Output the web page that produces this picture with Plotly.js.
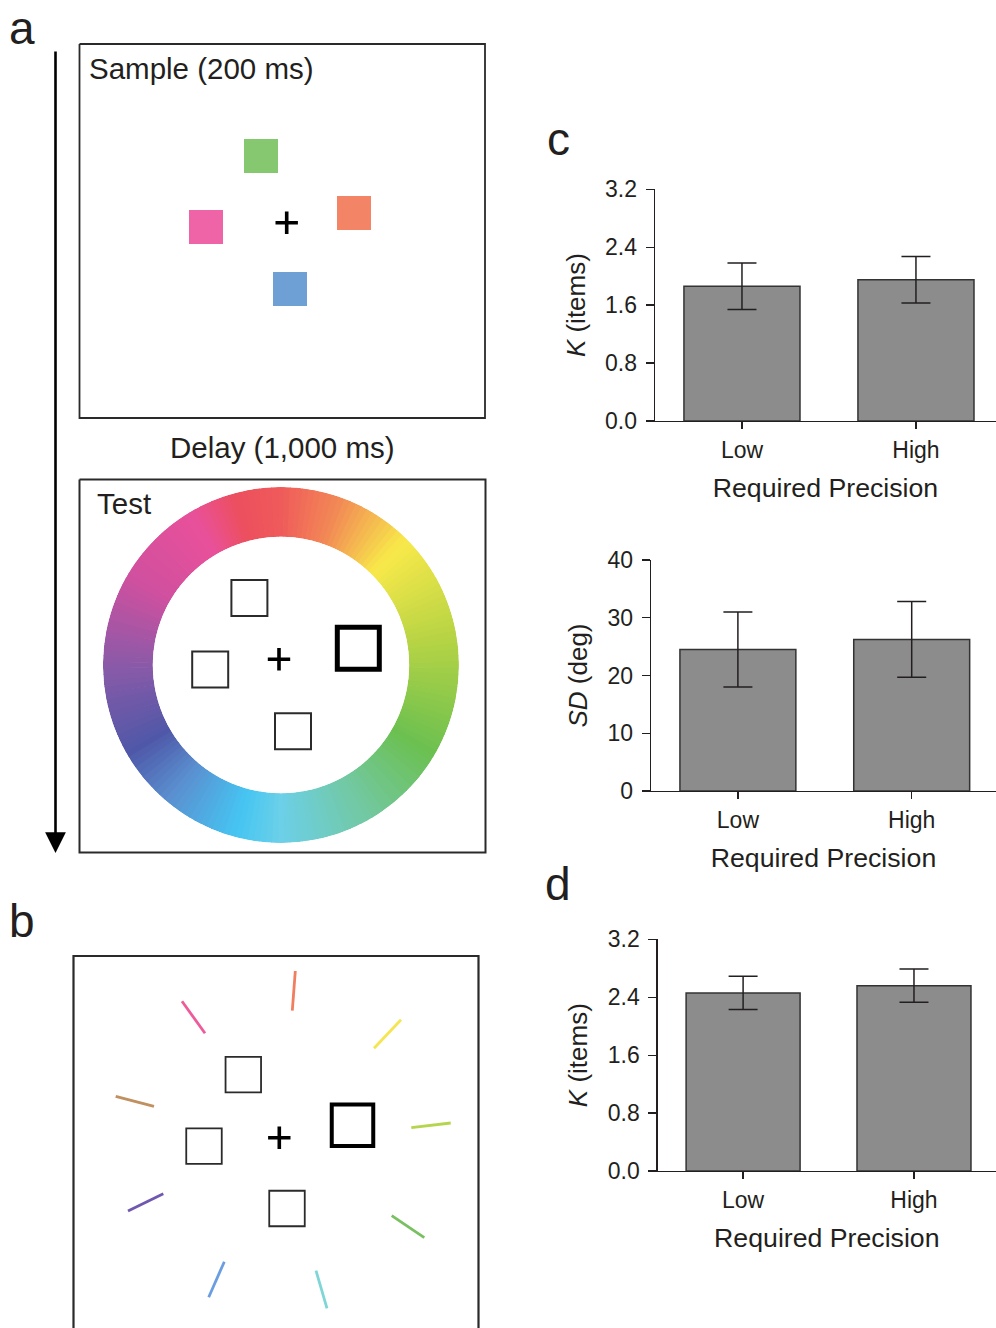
<!DOCTYPE html>
<html>
<head>
<meta charset="utf-8">
<script src="https://cdn.plot.ly/plotly-3.0.1.min.js"></script>
<style>html,body{margin:0;padding:0;background:#fff;}#chart{width:996px;height:1328px;}</style>
</head>
<body>
<div id="chart"></div>
<script>
// ---------- bar chart data ----------
const categories = ['Low', 'High'];
const kItemsC = [1.86, 1.95];
const kItemsCErr = [0.32, 0.32];
const sdDeg = [24.5, 26.25];
const sdDegErr = [6.5, 6.55];
const kItemsD = [2.46, 2.56];
const kItemsDErr = [0.23, 0.23];
const kTicks = [0, 0.8, 1.6, 2.4, 3.2];
const kTickText = ['0.0', '0.8', '1.6', '2.4', '3.2'];
const sdTicks = [0, 10, 20, 30, 40];

// ---------- diagram elements (page pixel units) ----------
const sampleSqX = [261, 206, 354, 290];
const sampleSqY = [156, 227, 213, 289];
const sampleSqColor = ['#86c86f', '#ef64a6', '#f38465', '#6fa0d5'];

const testSqX = [249.4, 210.2, 293];
const testSqY = [597.9, 669.5, 731.2];
const testTargetX = [358.3];
const testTargetY = [648.3];

const bSqX = [243.3, 204, 287];
const bSqY = [1074.7, 1146.2, 1208.5];
const bTargetX = [352.5];
const bTargetY = [1125.2];

const crossX = [286.7, 279, 279.3];
const crossY = [222.7, 659.3, 1137.7];

const segX0 = [295.3, 182, 401, 115.7, 411.3, 128, 391.7, 208.7, 316];
const segY0 = [971, 1001.3, 1019.7, 1096.3, 1127.7, 1211, 1215.7, 1297.3, 1270.7];
const segX1 = [292.3, 205, 374, 154, 450.7, 163.3, 424.3, 224.3, 327];
const segY1 = [1010.7, 1033.3, 1048.3, 1106.3, 1123, 1193.7, 1237.7, 1261.7, 1308.3];
const segColor = ['#f07f60', '#ee5a9a', '#f5e552', '#c09060', '#b5d54f', '#7058b0', '#78c060', '#6a9ee0', '#80d6d6'];

const wheelStopAngles = [0, 20, 45, 80, 120, 150, 180, 195, 220, 240, 270, 300, 330, 345];
const wheelStopColors = ['#ef5a5a', '#f28a55', '#f8e94a', '#b8d444', '#6cc050', '#72c8a0', '#6cd0e8', '#45c5f2', '#5a90d0', '#4f58a8', '#8a5aa8', '#cf509f', '#e9509a', '#ec4f5e'];

const FONT = 'Liberation Sans, Arial, Helvetica, sans-serif';
const INK = '#231f20';

// ---------- helpers ----------
function hexToRgb(h){ return [parseInt(h.slice(1,3),16), parseInt(h.slice(3,5),16), parseInt(h.slice(5,7),16)]; }
function wheelColor(a){
  const n = wheelStopAngles.length;
  const A = ((a % 360) + 360) % 360;
  for (let i = 0; i < n; i++){
    const a0 = wheelStopAngles[i];
    const a1 = i + 1 < n ? wheelStopAngles[i+1] : 360;
    if (A >= a0 && A < a1){
      const t = (A - a0) / (a1 - a0);
      const c0 = hexToRgb(wheelStopColors[i]);
      const c1 = hexToRgb(wheelStopColors[(i+1) % n]);
      const c = c0.map((v, k) => Math.round(v + (c1[k] - v) * t));
      return 'rgb(' + c.join(',') + ')';
    }
  }
  return wheelStopColors[0];
}

const traces = [];

// bars
function barTrace(vals, errs, xa, ya){
  return {
    type: 'bar', x: categories, y: vals, xaxis: xa, yaxis: ya, width: 0.667,
    marker: {color: '#8c8c8c', line: {color: '#333', width: 1.5}},
    error_y: {type: 'data', array: errs, visible: true, color: INK, thickness: 1.5, width: 14.5},
    hoverinfo: 'skip'
  };
}
traces.push(barTrace(kItemsC, kItemsCErr, 'x', 'y'));
traces.push(barTrace(sdDeg, sdDegErr, 'x2', 'y2'));
traces.push(barTrace(kItemsD, kItemsDErr, 'x3', 'y3'));

// colour wheel
const NSEG = 180;
const wheelTheta = [], wheelR = [], wheelCols = [];
for (let i = 0; i < NSEG; i++){
  const a = i * 360 / NSEG;
  wheelTheta.push(a); wheelR.push(1); wheelCols.push(wheelColor(a));
}
traces.push({
  type: 'barpolar', r: wheelR, theta: wheelTheta, width: 360 / NSEG + 0.3, subplot: 'polar',
  marker: {color: wheelCols, line: {width: 0}}, hoverinfo: 'skip'
});

// panel boxes
function boxTrace(x0, y0, x1, y1, w, c){
  return {type: 'scatter', mode: 'lines', x: [x0, x1, x1, x0, x0], y: [y0, y0, y1, y1, y0],
    xaxis: 'x4', yaxis: 'y4', line: {color: c, width: w}, hoverinfo: 'skip'};
}
traces.push(boxTrace(79.5, 44, 485, 418, 1.8, '#2a2a2a'));
traces.push(boxTrace(79.5, 479.5, 485.5, 852.5, 2, '#2a2a2a'));
traces.push({type: 'scatter', mode: 'lines', x: [73.5, 73.5, 478.5, 478.5], y: [1335, 956, 956, 1335],
  xaxis: 'x4', yaxis: 'y4', line: {color: '#2a2a2a', width: 2.2}, hoverinfo: 'skip'});

// sample squares
traces.push({type: 'scatter', mode: 'markers', x: sampleSqX, y: sampleSqY, xaxis: 'x4', yaxis: 'y4',
  marker: {symbol: 'square', size: 34, color: sampleSqColor, line: {width: 0}}, hoverinfo: 'skip'});

// outline squares
function openSq(xs, ys, size, w, c){
  return {type: 'scatter', mode: 'markers', x: xs, y: ys, xaxis: 'x4', yaxis: 'y4',
    marker: {symbol: 'square-open', size: size, color: c, line: {width: w, color: c}}, hoverinfo: 'skip'};
}
traces.push(openSq(testSqX, testSqY, 36, 2, '#2b2b2b'));
traces.push(openSq(testTargetX, testTargetY, 42, 5, '#000'));
traces.push(openSq(bSqX, bSqY, 35.5, 1.8, '#2b2b2b'));
traces.push(openSq(bTargetX, bTargetY, 41.5, 4, '#000'));

// fixation crosses
traces.push({type: 'scatter', mode: 'markers', x: crossX, y: crossY, xaxis: 'x4', yaxis: 'y4',
  marker: {symbol: 'cross-thin-open', size: 16, color: '#000', line: {width: 3.6, color: '#000'}}, hoverinfo: 'skip'});

// panel b line segments
for (let i = 0; i < segX0.length; i++){
  traces.push({type: 'scatter', mode: 'lines', x: [segX0[i], segX1[i]], y: [segY0[i], segY1[i]],
    xaxis: 'x4', yaxis: 'y4', line: {color: segColor[i], width: 2.8}, hoverinfo: 'skip'});
}

// ---------- axes ----------
const tickfont = {family: FONT, size: 23, color: INK};
function xAx(domain, range, anchor){
  return {domain: domain, range: range, anchor: anchor, type: 'category',
    showline: true, linecolor: INK, linewidth: 1.3, ticks: 'outside', ticklen: 7, tickwidth: 1.3, tickcolor: INK,
    showgrid: false, zeroline: false, tickfont: tickfont, fixedrange: true, ticklabelstandoff: 1,
    title: {text: 'Required Precision', font: {family: FONT, size: 26.7, color: INK}, standoff: 16}};
}
function yAx(domain, range, tv, tt, anchor, title){
  return {domain: domain, range: range, anchor: anchor, tickmode: 'array', tickvals: tv, ticktext: tt,
    showline: true, linecolor: INK, linewidth: 1.3, ticks: 'outside', ticklen: 8, tickwidth: 1.3, tickcolor: INK,
    showgrid: false, zeroline: false, tickfont: tickfont, fixedrange: true, ticklabelstandoff: 4,
    title: {text: title, font: {family: FONT, size: 26, color: INK}, standoff: 12}};
}

const ann = [];
function label(t, x, y, size, xanchor, yanchor){
  ann.push({text: t, x: x, y: y, xref: 'x4', yref: 'y4', showarrow: false, xanchor: xanchor || 'center', yanchor: yanchor || 'middle',
    font: {family: FONT, size: size, color: INK}});
}
label('a', 22, 0, 46, 'center', 'top');
label('b', 22, 921, 46);
label('c', 558, 139, 46);
label('d', 558, 884, 46);
label('Sample (200 ms)', 87, 68, 29.5, 'left');
label('Delay (1,000 ms)', 282, 447, 29.5);
label('Test', 95, 503, 29.5, 'left');
ann.push({text: '', x: 55.5, y: 853, xref: 'x4', yref: 'y4', ax: 55.5, ay: 50, axref: 'x4', ayref: 'y4',
  showarrow: true, arrowhead: 2, arrowsize: 1.6, arrowwidth: 2.6, arrowcolor: '#000', standoff: 0});

const layout = {
  width: 996, height: 1328, margin: {l: 0, r: 0, t: 0, b: 0},
  paper_bgcolor: '#ffffff', plot_bgcolor: 'rgba(0,0,0,0)', showlegend: false,
  font: {family: FONT, color: INK},
  xaxis: xAx([0.6576, 1], [-0.5, 1.46], 'y'),
  yaxis: yAx([0.6830, 0.8575], [0, 3.2], kTicks, kTickText, 'x', '<i>K</i> (items)'),
  xaxis2: xAx([0.6536, 1], [-0.5, 1.485], 'y2'),
  yaxis2: yAx([0.4044, 0.5783], [0, 40], sdTicks, sdTicks.map(String), 'x2', '<i>SD</i> (deg)'),
  xaxis3: xAx([0.6603, 1], [-0.5, 1.48], 'y3'),
  yaxis3: yAx([0.1182, 0.2927], [0, 3.2], kTicks, kTickText, 'x3', '<i>K</i> (items)'),
  xaxis4: {domain: [0, 1], range: [0, 996], anchor: 'y4', visible: false, fixedrange: true},
  yaxis4: {domain: [0, 1], range: [1328, 0], anchor: 'x4', visible: false, fixedrange: true},
  polar: {
    domain: {x: [0.1034, 0.4608], y: [0.3652, 0.6333]},
    hole: 0.72, bgcolor: 'rgba(0,0,0,0)',
    radialaxis: {visible: false, range: [0, 1]},
    angularaxis: {visible: false, rotation: 90, direction: 'clockwise', showgrid: false, showline: false, ticks: ''}
  },
  annotations: ann
};

Plotly.newPlot('chart', traces, layout, {staticPlot: true, displayModeBar: false});
</script>
</body>
</html>
